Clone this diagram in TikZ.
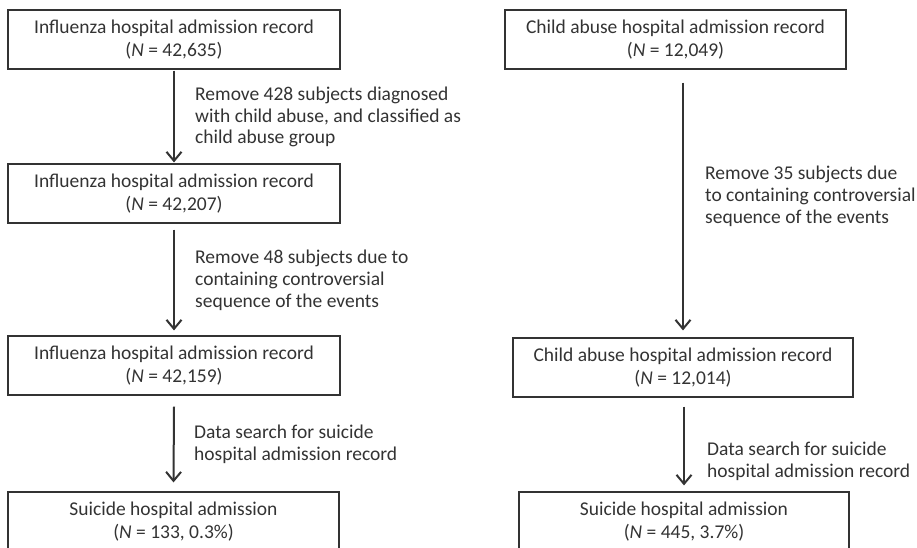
\documentclass[tikz,border=0pt]{standalone}
\usepackage{fontspec}
\setmainfont{Carlito}
\usetikzlibrary{arrows.meta}
\definecolor{ink}{HTML}{333333}
\tikzset{
  box/.style={draw=ink, line width=1.2pt, inner sep=0pt, align=center, text=ink,
    minimum height=59pt, font=\fontsize{19.5}{23.5}\selectfont},
  lab/.style={anchor=west, align=left, inner sep=0pt, text=ink,
    font=\fontsize{19.5}{21.8}\selectfont},
  arr/.style={draw=ink, line width=2pt, -{Straight Barb[length=9pt,width=15pt,line width=2pt]}},
}
\begin{document}
\begin{tikzpicture}[x=1pt,y=-1pt]
\clip (0,0) rectangle (917,547);
\fill[white] (0,0) rectangle (917,547);
% left column
\node[box, minimum width=332pt] (L1) at (174,39.5) {Influenza hospital admission record\\(\textit{N} = 42,635)};
\node[box, minimum width=332pt] (L2) at (174,193.5) {Influenza hospital admission record\\(\textit{N} = 42,207)};
\node[box, minimum width=332pt] (L3) at (174,365.5) {Influenza hospital admission record\\(\textit{N} = 42,159)};
\node[box, minimum width=331pt] (L4) at (173.5,521.5) {Suicide hospital admission\\(\textit{N} = 133, 0.3\%)};
% right column
\node[box, minimum width=341pt] (R1) at (675.5,39.5) {Child abuse hospital admission record\\(\textit{N} = 12,049)};
\node[box, minimum width=340pt] (R2) at (683,367.5) {Child abuse hospital admission record\\(\textit{N} = 12,014)};
\node[box, minimum width=330pt] (R3) at (684,521.5) {Suicide hospital admission\\(\textit{N} = 445, 3.7\%)};
% arrows
\draw[arr] ([yshift=-1pt]L1.south) -- ([yshift=1pt]L2.north);
\draw[arr] ([yshift=-6pt]L2.south) -- ([yshift=5pt]L3.north);
\draw[arr] ([yshift=-11pt]L3.south) -- ([yshift=9pt]L4.north);
\coordinate (r1s) at ([yshift=-13pt]R1.south);
\draw[arr] (r1s -| R2.north) -- ([yshift=7pt]R2.north);
\draw[arr] ([yshift=-9pt]R2.south -| R3.north) -- ([yshift=6pt]R3.north);
% labels
\node[lab] (t1) at (195,117) {Remove 428 subjects diagnosed\\with child abuse, and classified as\\child abuse group};
\node[lab] (t2) at (195,280) {Remove 48 subjects due to\\containing controversial\\sequence of the events};
\node[lab] (t3) at (194,444.5) {Data search for suicide\\hospital admission record};
\node[lab] (t4) at (705,196) {Remove 35 subjects due\\to containing controversial\\sequence of the events};
\node[lab] (t5) at (707,461.5) {Data search for suicide\\hospital admission record};
\end{tikzpicture}
\end{document}
